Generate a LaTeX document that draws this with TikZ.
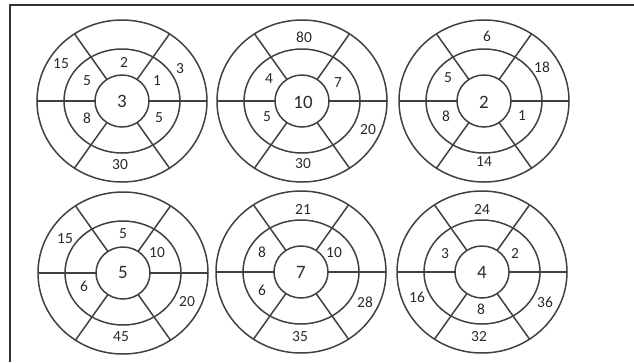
\documentclass[tikz,border=0pt]{standalone}
\usepackage{fontspec}
\setmainfont{Carlito}
\definecolor{linegray}{HTML}{404040}
\definecolor{textgray}{HTML}{2A2A2A}
\definecolor{framegray}{HTML}{333333}
\newcommand\bullseye[3]{%
  \begin{scope}[shift={(#2,#3)}]
    \coordinate (#1) at (0,0);
    \draw[ring] (0,0) ellipse[x radius=85,y radius=81];
    \draw[ring] (0,0) ellipse[x radius=58,y radius=52];
    \draw[ring] (0,0) ellipse[x radius=27,y radius=26];
    \foreach \a in {0,56,124,180,236,304}
      \draw[ring] (\a:27 and 26) -- (\a:85 and 81);
  \end{scope}}
\begin{document}
\begin{tikzpicture}[x=1bp,y=-1bp,
  ring/.style={draw=linegray,line width=1.5bp},
  lab/.style={text=textgray,font=\fontsize{15.5}{15.5}\selectfont,inner sep=0pt},
  mid/.style={text=textgray,font=\fontsize{19}{19}\selectfont,inner sep=0pt},
  frame/.style={draw=framegray,line width=1.6bp}]
\useasboundingbox (0,0) rectangle (634,362);
\coordinate (fTL) at (10,5);
\coordinate (fTR) at (634,5);
\coordinate (fBL) at (10,362);
\draw[frame] (fTR) -- (fTL) -- (fBL);

\bullseye{b1}{122}{101}
\bullseye{b2}{302}{101}
\bullseye{b3}{484}{101}
\bullseye{b4}{123}{273}
\bullseye{b5}{301}{272}
\bullseye{b6}{482}{272}

% diagram 1
\node[mid] (b1c) at (b1) {3};
\node[lab] (b1a) at ([shift={(2,-39)}]b1) {2};
\node[lab] (b1b) at ([shift={(35,-20)}]b1) {1};
\node[lab] (b1d) at ([shift={(-35,-20)}]b1) {5};
\node[lab] (b1e) at ([shift={(-35,17)}]b1) {8};
\node[lab] (b1f) at ([shift={(37,17)}]b1) {5};
\node[lab] (b1g) at ([shift={(-61,-37)}]b1) {15};
\node[lab] (b1h) at ([shift={(58,-32)}]b1) {3};
\node[lab] (b1i) at ([shift={(-2,64)}]b1) {30};

% diagram 2
\node[mid] (b2c) at ([shift={(1,1)}]b2) {10};
\node[lab] (b2a) at ([shift={(2,-64)}]b2) {80};
\node[lab] (b2b) at ([shift={(-33,-22)}]b2) {4};
\node[lab] (b2d) at ([shift={(36,-18)}]b2) {7};
\node[lab] (b2e) at ([shift={(-35,16)}]b2) {5};
\node[lab] (b2f) at ([shift={(66,29)}]b2) {20};
\node[lab] (b2g) at ([shift={(1,63)}]b2) {30};

% diagram 3
\node[mid] (b3c) at ([shift={(0,1)}]b3) {2};
\node[lab] (b3a) at ([shift={(3,-65)}]b3) {6};
\node[lab] (b3b) at ([shift={(58,-34)}]b3) {18};
\node[lab] (b3d) at ([shift={(-36,-23)}]b3) {5};
\node[lab] (b3e) at ([shift={(-38,15)}]b3) {8};
\node[lab] (b3f) at ([shift={(38,15)}]b3) {1};
\node[lab] (b3g) at ([shift={(0,61)}]b3) {14};

% diagram 4
\node[mid] (b4c) at ([shift={(0,-1)}]b4) {5};
\node[lab] (b4a) at ([shift={(0,-39)}]b4) {5};
\node[lab] (b4b) at ([shift={(34,-20)}]b4) {10};
\node[lab] (b4d) at ([shift={(-58,-34)}]b4) {15};
\node[lab] (b4e) at ([shift={(-39,13)}]b4) {6};
\node[lab] (b4f) at ([shift={(64,29)}]b4) {20};
\node[lab] (b4g) at ([shift={(-2,64)}]b4) {45};

% diagram 5
\node[mid] (b5c) at (b5) {7};
\node[lab] (b5a) at ([shift={(2,-63)}]b5) {21};
\node[lab] (b5b) at ([shift={(-39,-20)}]b5) {8};
\node[lab] (b5d) at ([shift={(33,-19)}]b5) {10};
\node[lab] (b5e) at ([shift={(-39,18)}]b5) {6};
\node[lab] (b5f) at ([shift={(64,30)}]b5) {28};
\node[lab] (b5g) at ([shift={(-1,65)}]b5) {35};

% diagram 6
\node[mid] (b6c) at (b6) {4};
\node[lab] (b6a) at ([shift={(0,-63)}]b6) {24};
\node[lab] (b6b) at ([shift={(-37,-18)}]b6) {3};
\node[lab] (b6d) at ([shift={(33,-19)}]b6) {2};
\node[lab] (b6e) at ([shift={(-1,37)}]b6) {8};
\node[lab] (b6f) at ([shift={(63,30)}]b6) {36};
\node[lab] (b6g) at ([shift={(-3,65)}]b6) {32};
\node[lab] (b6h) at ([shift={(-65,25)}]b6) {16};
\end{tikzpicture}
\end{document}
